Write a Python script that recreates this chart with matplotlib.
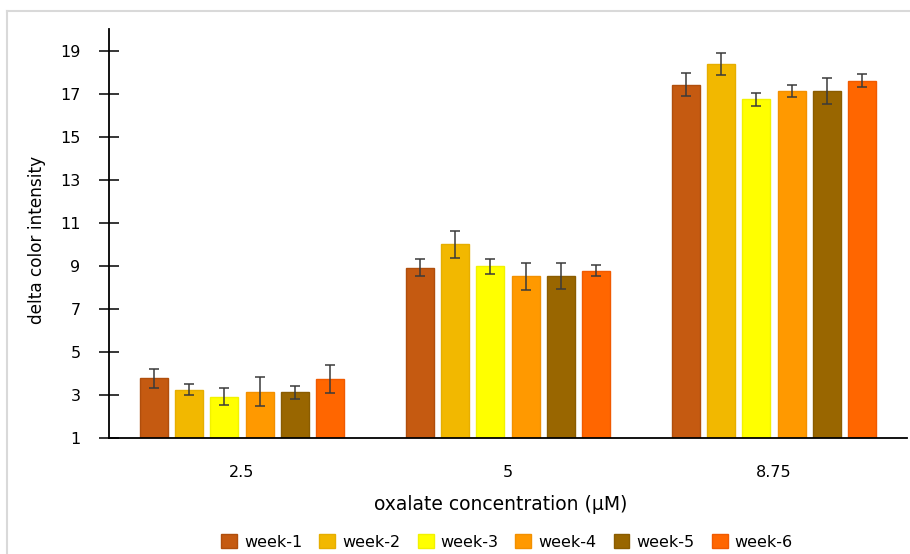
import numpy as np
import matplotlib
matplotlib.use("Agg")
import matplotlib.pyplot as plt
from matplotlib.lines import Line2D

plt.rcParams['font.family'] = ['DejaVu Sans']

concentrations = ["2.5", "5", "8.75"]
weeks = ["week-1", "week-2", "week-3", "week-4", "week-5", "week-6"]

week1 = [3.77, 8.92, 17.42]
week2 = [3.25, 10.00, 18.38]
week3 = [2.91, 8.98, 16.73]
week4 = [3.15, 8.51, 17.12]
week5 = [3.13, 8.53, 17.12]
week6 = [3.73, 8.78, 17.60]

err1 = [0.45, 0.38, 0.53]
err2 = [0.26, 0.63, 0.50]
err3 = [0.40, 0.35, 0.30]
err4 = [0.67, 0.64, 0.26]
err5 = [0.30, 0.62, 0.60]
err6 = [0.65, 0.26, 0.29]

series = [week1, week2, week3, week4, week5, week6]
errors = [err1, err2, err3, err4, err5, err6]
colors = ["#C55A11", "#F2B800", "#FFFF00", "#FF9900", "#996600", "#FF6600"]
edges = ["#B04E0C", "#E6AE00", "#F2F200", "#F29000", "#8A5C00", "#F05A00"]

fig = plt.figure(figsize=(9.1, 5.54), dpi=100)
ax = fig.add_axes([109 / 910, 1 - 438 / 554, (907 - 109) / 910, (438 - 29) / 554])

x = np.arange(len(concentrations))
pitch = 0.133
width = 0.105
for i, (vals, errs) in enumerate(zip(series, errors)):
    offs = (i - 2.5) * pitch
    ax.bar(x + offs, vals, width, bottom=0, color=colors[i], edgecolor=edges[i],
           linewidth=1.0, label=weeks[i], zorder=2)
    ax.errorbar(x + offs, vals, yerr=errs, fmt='none', ecolor="#3a3a3a",
                elinewidth=1.1, capsize=3.6, capthick=1.1, zorder=3)

ax.set_xlim(-0.5, 2.5)
ax.set_ylim(1, 20)
ax.set_yticks(np.arange(1, 20, 2))
ax.set_xticks(x)
ax.set_xticklabels(concentrations)

for s in ["top", "right"]:
    ax.spines[s].set_visible(False)
ax.spines["left"].set_linewidth(1.3)
ax.spines["bottom"].set_linewidth(1.3)
ax.tick_params(axis='y', direction='inout', length=14, width=1.1, labelsize=11.5, pad=13.5)
ax.tick_params(axis='x', length=0, labelsize=11.5, pad=19.5)

ax.set_ylabel("delta color intensity", fontsize=12.2)
ax.yaxis.set_label_coords(-0.079, 0.484)
ax.set_xlabel("oxalate concentration (µM)", fontsize=13.5)
ax.xaxis.set_label_coords(0.491, -0.139)

handles, labels = ax.get_legend_handles_labels()
leg = fig.legend(handles, labels, loc='center', bbox_to_anchor=(507 / 910, 1 - 542 / 554),
                 ncol=6, frameon=False, fontsize=11.5, handlelength=1.0, handleheight=1.0,
                 columnspacing=1.06, handletextpad=0.44, borderpad=0.2)

# chart-area border
fig.add_artist(Line2D([7 / 910, 1.0], [1 - 11 / 554, 1 - 11 / 554], color="#d9d9d9", lw=1.5))
fig.add_artist(Line2D([7 / 910, 7 / 910], [0.0, 1 - 11 / 554], color="#d9d9d9", lw=1.5))

fig.savefig("out.png", dpi=100)
